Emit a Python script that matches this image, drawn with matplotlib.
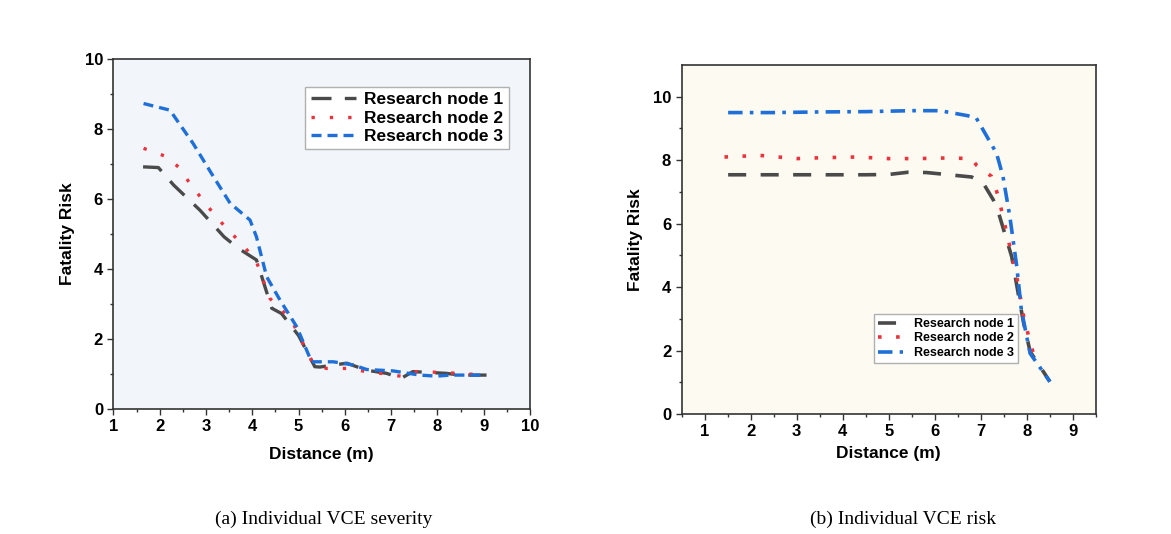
import numpy as np
import matplotlib.pyplot as plt
from matplotlib.ticker import MultipleLocator, FixedLocator

# (a) individual VCE severity
a_x1 = [1.64, 1.97, 2.3, 2.87, 3.39, 3.7, 4.09, 4.42, 4.63, 5.0, 5.35, 5.46, 6.04, 6.47, 6.9, 7.22, 7.47, 8.19, 8.5, 9.06]
a_y1 = [6.92, 6.9, 6.4, 5.68, 4.92, 4.59, 4.26, 2.88, 2.73, 2.1, 1.21, 1.2, 1.31, 1.11, 1.02, 0.88, 1.07, 1.02, 0.97, 0.97]
a_x2 = [1.65, 2.15, 2.4, 2.65, 2.9, 3.19, 3.48, 3.77, 4.09, 4.38, 4.67, 4.88, 5.13, 5.31, 5.6, 6.04, 6.47, 6.9, 7.3, 7.55, 8.19, 9.06]
a_y2 = [7.45, 7.21, 6.92, 6.45, 6.02, 5.54, 5.11, 4.73, 4.21, 3.16, 2.78, 2.45, 1.78, 1.31, 1.16, 1.16, 1.07, 1.0, 0.92, 1.07, 1.04, 0.97]
a_x3 = [1.65, 2.22, 2.72, 3.16, 3.52, 3.95, 4.09, 4.31, 4.6, 4.96, 5.28, 5.75, 6.18, 6.47, 7.04, 7.62, 7.98, 8.27, 9.06]
a_y3 = [8.73, 8.54, 7.59, 6.64, 5.88, 5.4, 4.92, 3.78, 3.11, 2.35, 1.35, 1.35, 1.26, 1.13, 1.09, 0.97, 0.94, 0.97, 0.97]

# (b) individual VCE risk
b_x1 = [1.51, 2.5, 3.5, 4.5, 5.0, 5.42, 5.82, 6.8, 7.05, 7.27, 7.41, 7.67, 7.81, 7.93, 8.07, 8.5]
b_y1 = [7.54, 7.54, 7.54, 7.54, 7.55, 7.62, 7.61, 7.47, 7.28, 6.75, 6.22, 4.96, 3.81, 2.86, 1.97, 1.02]
b_x2 = [1.43, 2.2, 3.0, 3.6, 4.3, 5.0, 5.6, 6.3, 6.8, 6.9, 7.23, 7.38, 7.48, 7.78, 7.93, 8.04, 8.14]
b_y2 = [8.1, 8.15, 8.05, 8.08, 8.1, 8.05, 8.05, 8.07, 8.05, 7.85, 7.49, 6.86, 6.22, 4.33, 3.07, 2.44, 1.91]
b_x3 = [1.51, 2.5, 3.5, 4.5, 5.5, 6.11, 6.72, 6.9, 7.34, 7.48, 7.63, 7.78, 7.88, 8.07, 8.5]
b_y3 = [9.5, 9.5, 9.52, 9.53, 9.56, 9.56, 9.4, 9.33, 8.22, 7.49, 6.22, 4.65, 3.28, 1.91, 1.02]

labels = ['Research node 1', 'Research node 2', 'Research node 3']
c_gray = '#4a4a4a'
c_red = '#e8353d'
c_blue = '#1f6fd8'

plt.rcParams['font.family'] = ['Liberation Sans', 'DejaVu Sans']
plt.rcParams['font.weight'] = 'bold'

fig = plt.figure(figsize=(11.71, 5.34), dpi=100)

ax1 = fig.add_axes([0.0969, 0.234, 0.3557, 0.6554])
ax1.set_facecolor('#f2f6fa')
ax1.plot(a_x1, a_y1, color=c_gray, lw=2.4, dashes=(6, 4), label=labels[0])
ax1.plot(a_x2, a_y2, color=c_red, lw=2.4, dashes=(1, 4.5), label=labels[1])
ax1.plot(a_x3, a_y3, color=c_blue, lw=2.4, dashes=(3, 1.8), label=labels[2])
ax1.set_xlim(1, 10)
ax1.set_ylim(0, 10)
ax1.xaxis.set_major_locator(MultipleLocator(1))
ax1.xaxis.set_minor_locator(MultipleLocator(0.5))
ax1.yaxis.set_major_locator(MultipleLocator(2))
ax1.yaxis.set_minor_locator(MultipleLocator(1))
ax1.set_xlabel('Distance (m)', fontsize=12.5, fontweight='bold', labelpad=9)
ax1.set_ylabel('Fatality Risk', fontsize=12.5, fontweight='bold', labelpad=7)
leg1 = ax1.legend(loc='upper right', prop={'weight': 'bold', 'size': 12.5},
                  handlelength=2.6, fancybox=False, framealpha=1, borderpad=0.3,
                  labelspacing=0.2, handletextpad=0.5, bbox_to_anchor=(0.97, 0.946))
leg1.get_frame().set_edgecolor('#b0b0b0')

ax2 = fig.add_axes([0.5821, 0.2247, 0.3538, 0.6536])
ax2.set_facecolor('#fdfaf2')
ax2.plot(b_x1, b_y1, color=c_gray, lw=2.6, dashes=(5, 4), label=labels[0])
ax2.plot(b_x2, b_y2, color=c_red, lw=2.6, dashes=(1, 4), label=labels[1])
ax2.plot(b_x3, b_y3, color=c_blue, lw=2.6, dashes=(4, 2, 1, 2), label=labels[2])
ax2.set_xlim(0.5, 9.5)
ax2.set_ylim(0, 11)
ax2.xaxis.set_major_locator(MultipleLocator(1))
ax2.xaxis.set_minor_locator(MultipleLocator(0.5))
ax2.yaxis.set_major_locator(FixedLocator([0, 2, 4, 6, 8, 10]))
ax2.yaxis.set_minor_locator(FixedLocator([1, 3, 5, 7, 9]))
ax2.set_xlabel('Distance (m)', fontsize=12.5, fontweight='bold', labelpad=5)
ax2.set_ylabel('Fatality Risk', fontsize=12.5, fontweight='bold', labelpad=7)
leg2 = ax2.legend(loc='lower left', prop={'weight': 'bold', 'size': 9},
                  handlelength=2.0, fancybox=False, framealpha=1, borderpad=0.3,
                  labelspacing=0.2, handletextpad=0.9, bbox_to_anchor=(0.45, 0.129))
leg2.get_frame().set_edgecolor('#b0b0b0')

for ax in (ax1, ax2):
    ax.tick_params(axis='both', which='major', direction='out', length=4,
                   labelsize=12, width=1, color='#333333')
    ax.tick_params(axis='both', which='minor', direction='out', length=2.5, width=1, color='#333333')
    for s in ax.spines.values():
        s.set_color('#333333')
        s.set_linewidth(1.2)
    for t in ax.get_xticklabels() + ax.get_yticklabels():
        t.set_fontweight('bold')

fig.text(0.276, 0.028, '(a) Individual VCE severity', ha='center', va='center',
         family=['Liberation Serif', 'DejaVu Serif'], fontsize=14, fontweight='normal')
fig.text(0.771, 0.028, '(b) Individual VCE risk', ha='center', va='center',
         family=['Liberation Serif', 'DejaVu Serif'], fontsize=14, fontweight='normal')

fig.savefig('out.png', dpi=100)
